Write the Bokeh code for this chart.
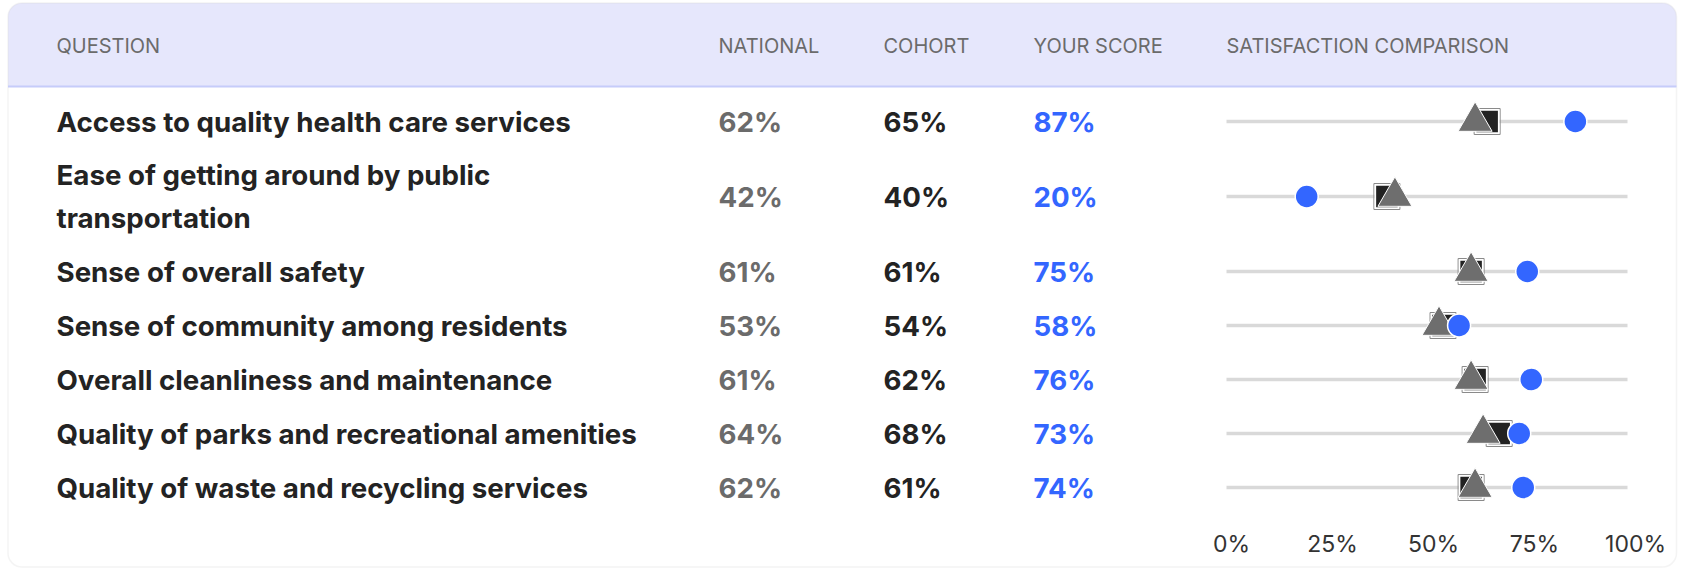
from bokeh.plotting import figure
from bokeh.models import Range1d, BoxAnnotation, ColumnDataSource
from bokeh.core.properties import value
from bokeh.embed import file_html
from bokeh.resources import INLINE

# ---------------- data ----------------
questions = [
    "Access to quality health care services",
    "Ease of getting around by public\ntransportation",
    "Sense of overall safety",
    "Sense of community among residents",
    "Overall cleanliness and maintenance",
    "Quality of parks and recreational amenities",
    "Quality of waste and recycling services",
]
national = [62, 42, 61, 53, 61, 64, 62]
cohort = [65, 40, 61, 54, 62, 68, 61]
your_score = [87, 20, 75, 58, 76, 73, 74]
headers = ["QUESTION", "NATIONAL", "COHORT", "YOUR SCORE", "SATISFACTION COMPARISON"]
axis_ticks = [0, 25, 50, 75, 100]

# ---------------- layout (pixels) ----------------
W, H = 1684, 568
FONT = "Inter"
col_x = [56, 718, 883, 1033, 1226]          # left edges of the columns
header_y = 45
header_bottom = 86
rows_top = 94
single_h, double_h = 54, 96
plot_left, plot_px = 1226, 401             # 0% .. 100% on the comparison scale
tick_left, tick_px = 1231, 404             # label row of the comparison scale
tick_y = 543

C_TEXT = "#232323"
C_GRAY = "#6b6b6b"
C_BLUE = "#3366ff"

centers = []
y = rows_top
for q in questions:
    h = double_h if "\n" in q else single_h
    centers.append(y + h / 2)
    y += h

p = figure(width=W, height=H, output_backend="svg", toolbar_location=None,
           x_range=Range1d(0, W), y_range=Range1d(H, 0),
           x_axis_location=None, y_axis_location=None, min_border=0)
p.grid.visible = False
p.outline_line_color = None
p.background_fill_color = "white"
p.border_fill_color = "white"

pct_scale = plot_px / 100.0
tick_scale = tick_px / 100.0
p.extra_x_ranges = {
    "pct": Range1d(-plot_left / pct_scale, (W - plot_left) / pct_scale),
    "tick": Range1d(-tick_left / tick_scale, (W - tick_left) / tick_scale),
}

# card + header band
card_l, card_r, card_t, card_b = 7.5, 1676, 2.5, 566.5
p.add_layout(BoxAnnotation(left=card_l, right=card_r, top=card_t, bottom=card_b,
                           fill_color="white", fill_alpha=1, line_alpha=0,
                           level="underlay", border_radius=14))
p.add_layout(BoxAnnotation(left=card_l, right=card_r, top=card_t, bottom=header_bottom,
                           fill_color="#e6e7fc", fill_alpha=1, line_alpha=0,
                           level="underlay", border_radius=(14, 14, 0, 0)))
p.segment(x0=[card_l], x1=[card_r], y0=[header_bottom], y1=[header_bottom],
          line_color="#c6ccfa", line_width=2)
p.add_layout(BoxAnnotation(left=card_l, right=card_r, top=card_t, bottom=card_b,
                           fill_alpha=0, line_color="#d9d9d9", line_width=1.5,
                           level="underlay", border_radius=14))

# header texts
p.text(x=col_x, y=[header_y] * len(headers), text=headers,
       text_font=value(FONT), text_font_size="20px", text_color=C_GRAY,
       text_align="left", text_baseline="middle")

src = ColumnDataSource(dict(
    q=questions, y=centers,
    nat=[f"{v}%" for v in national],
    coh=[f"{v}%" for v in cohort],
    you=[f"{v}%" for v in your_score],
    national=national, cohort=cohort, score=your_score,
    lo=[axis_ticks[0]] * len(questions), hi=[axis_ticks[-1]] * len(questions),
))

common = dict(text_font=value(FONT), text_font_size="27.7px", text_font_style="bold",
              text_align="left", text_baseline="middle", text_line_height=1.28)
p.text(x=col_x[0], y="y", text="q", source=src, text_color=C_TEXT, **common)
p.text(x=col_x[1], y="y", text="nat", source=src, text_color=C_GRAY, **common)
p.text(x=col_x[2], y="y", text="coh", source=src, text_color=C_TEXT, **common)
p.text(x=col_x[3], y="y", text="you", source=src, text_color=C_BLUE, **common)

# comparison tracks and markers
p.segment(x0="lo", x1="hi", y0="y", y1="y", source=src, x_range_name="pct",
          line_color="#d9d9d9", line_width=3.5)
p.scatter(x="cohort", y="y", source=src, x_range_name="pct", marker="square",
          size=26, fill_alpha=0, line_color="#8a8a8a", line_width=1)
p.scatter(x="cohort", y="y", source=src, x_range_name="pct", marker="square",
          size=23, fill_color="#222222", line_color="white", line_width=1.5)
p.scatter(x="national", y="y", source=src, x_range_name="pct", marker="triangle",
          size=34, fill_color="#6e6e6e", line_color="white", line_width=1)
p.scatter(x="score", y="y", source=src, x_range_name="pct", marker="circle",
          size=23, fill_color=C_BLUE, line_color="white", line_width=1.5)

# scale labels
p.text(x=axis_ticks, y=[tick_y] * len(axis_ticks), text=[f"{t}%" for t in axis_ticks],
       x_range_name="tick", text_font=value(FONT), text_font_size="23px",
       text_color="#333333", text_align="center", text_baseline="middle")

open("out.html", "w").write(file_html(p, INLINE))
